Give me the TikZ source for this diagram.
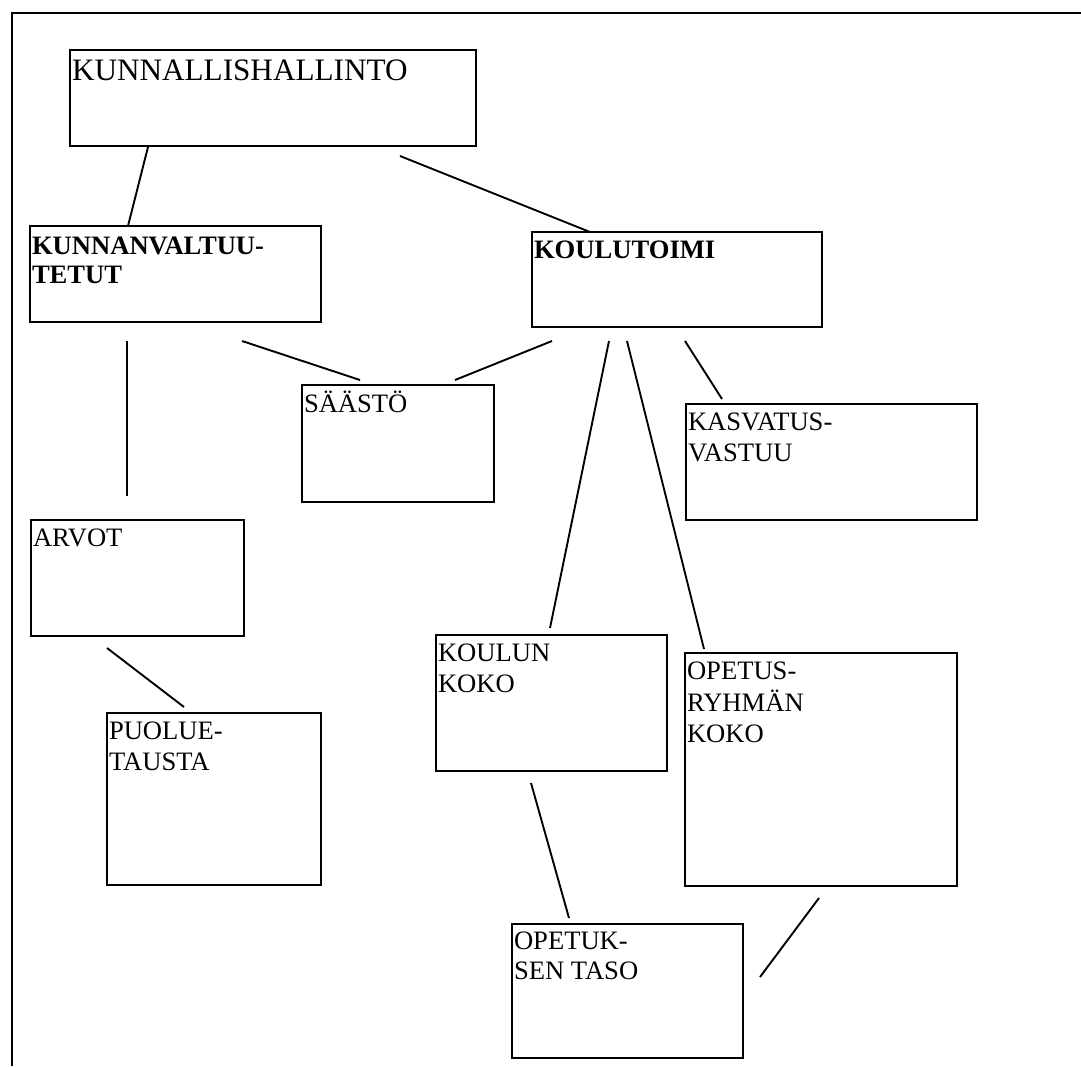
\documentclass[tikz,border=0pt]{standalone}
\usepackage{fontspec}
\setmainfont{Liberation Serif}
\begin{document}
\begin{tikzpicture}[x=1pt,y=-1pt,
  box/.style={draw, line width=2.2pt, rectangle, inner sep=0pt, outer sep=0pt, anchor=north west},
  lbl/.style={anchor=north west, inner sep=0pt, outer sep=0pt, align=left, font=\fontsize{26.6}{30.4}\selectfont},
  ttl/.style={anchor=north west, inner sep=0pt, outer sep=0pt, align=left, font=\fontsize{31.2}{35.6}\selectfont},
  link/.style={line width=1.9pt},
  frame/.style={line width=2pt}]
\useasboundingbox (0,0) rectangle (1081,1066);
% frame
\coordinate (fTL) at (12,13);
\coordinate (fTR) at (1081,13);
\coordinate (fBL) at (12,1066);
\draw[frame] (fTR) -- (fTL) -- (fBL);
% boxes
\node[box, minimum width=406pt, minimum height=96pt] (kh) at (70,50) {};
\node[box, minimum width=291pt, minimum height=96pt] (kv) at (30,226) {};
\node[box, minimum width=290pt, minimum height=95pt] (kt) at (532,232) {};
\node[box, minimum width=192pt, minimum height=117pt] (sa) at (302,385) {};
\node[box, minimum width=291pt, minimum height=116pt] (ka) at (686,404) {};
\node[box, minimum width=213pt, minimum height=116pt] (ar) at (31,520) {};
\node[box, minimum width=214pt, minimum height=172pt] (pu) at (107,713) {};
\node[box, minimum width=231pt, minimum height=136pt] (ko) at (436,635) {};
\node[box, minimum width=272pt, minimum height=233pt] (or) at (685,653) {};
\node[box, minimum width=231pt, minimum height=134pt] (ot) at (512,924) {};
% texts
\node[ttl] (khT) at ([xshift=2pt,yshift=-5.1pt]kh.north west) {\strut KUNNALLISHALLINTO};
\node[lbl, font=\fontsize{26.6}{28.5}\selectfont\bfseries] (kvT) at ([xshift=2pt,yshift=-9pt]kv.north west) {\strut KUNNANVALTUU-\\TETUT};
\node[lbl, font=\fontsize{26.6}{30.4}\selectfont\bfseries] (ktT) at ([xshift=2pt,yshift=-5.7pt]kt.north west) {\strut KOULUTOIMI};
\node[lbl] (saT) at ([xshift=2pt,yshift=-5.7pt]sa.north west) {\strut SÄÄSTÖ};
\node[lbl] (kaT) at ([xshift=2pt,yshift=-5.7pt]ka.north west) {\strut KASVATUS-\\VASTUU};
\node[lbl] (arT) at ([xshift=2pt,yshift=-5.7pt]ar.north west) {\strut ARVOT};
\node[lbl] (puT) at ([xshift=2pt,yshift=-5.7pt]pu.north west) {\strut PUOLUE-\\TAUSTA};
\node[lbl] (koT) at ([xshift=2pt,yshift=-5.7pt]ko.north west) {\strut KOULUN\\KOKO};
\node[lbl] (orT) at ([xshift=2pt,yshift=-5.7pt]or.north west) {\strut OPETUS-\\RYHMÄN\\KOKO};
\node[lbl] (otT) at ([xshift=2pt,yshift=-4pt]ot.north west) {\strut OPETUK-\\SEN TASO};
% connector end points
\coordinate (l1a) at (148,147); \coordinate (l1b) at (128,226);
\coordinate (l2a) at (400,156); \coordinate (l2b) at (590,232);
\coordinate (l3a) at (127,341); \coordinate (l3b) at (127,496);
\coordinate (l4a) at (242,341); \coordinate (l4b) at (360,380);
\coordinate (l5a) at (552,341); \coordinate (l5b) at (455,380);
\coordinate (l6a) at (609,341); \coordinate (l6b) at (550,628);
\coordinate (l7a) at (627,341); \coordinate (l7b) at (704,649);
\coordinate (l8a) at (685,341); \coordinate (l8b) at (722,399);
\coordinate (l9a) at (107,648); \coordinate (l9b) at (184,707);
\coordinate (l10a) at (531,783); \coordinate (l10b) at (569,918);
\coordinate (l11a) at (819,898); \coordinate (l11b) at (760,977);
\draw[link] (l1a) -- (l1b);
\draw[link] (l2a) -- (l2b);
\draw[link] (l3a) -- (l3b);
\draw[link] (l4a) -- (l4b);
\draw[link] (l5a) -- (l5b);
\draw[link] (l6a) -- (l6b);
\draw[link] (l7a) -- (l7b);
\draw[link] (l8a) -- (l8b);
\draw[link] (l9a) -- (l9b);
\draw[link] (l10a) -- (l10b);
\draw[link] (l11a) -- (l11b);
\end{tikzpicture}
\end{document}
